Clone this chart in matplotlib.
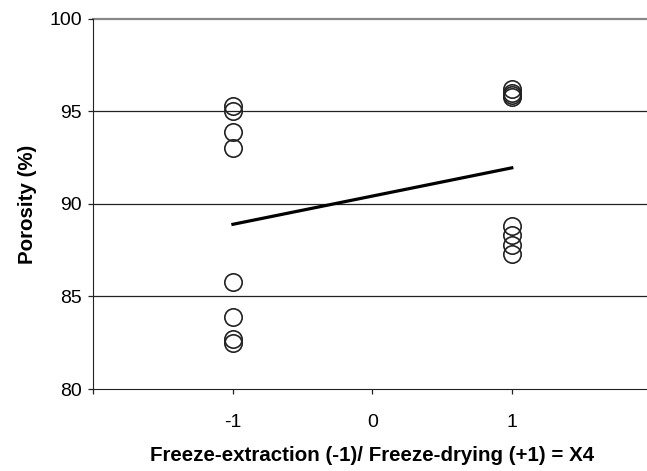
import matplotlib
matplotlib.use('Agg')
import matplotlib.pyplot as plt
import numpy as np

plt.rcParams['font.family'] = ['Liberation Sans', 'DejaVu Sans']

# Observed porosity for each level of X4
x_levels = [-1, 1]
porosity_extraction = [95.3, 95.0, 93.9, 93.0, 85.8, 83.9, 82.7, 82.5]
porosity_drying = [96.2, 96.0, 95.9, 95.8, 88.8, 88.3, 87.8, 87.3]

# Fitted line end points
fit_x = [-1, 1]
fit_y = [88.9, 91.95]

y_ticks = [80, 85, 90, 95, 100]
x_ticks = [-2, -1, 0, 1, 2]
x_ticklabels = ['', '-1', '0', '1', '']

fig = plt.figure(figsize=(6.47, 4.71), dpi=100)
ax = fig.add_axes([0.1445, 0.174, 0.862, 0.786])

for yv in [85, 90, 95]:
    ax.axhline(yv, color='#222222', lw=0.9, zorder=1)
ax.axhline(100, color='#888888', lw=1.6, zorder=1, clip_on=False)

ax.plot([x_levels[0]] * len(porosity_extraction), porosity_extraction, 'o',
        ms=12.5, mfc='none', mec='#222222', mew=1.2, zorder=3)
ax.plot([x_levels[1]] * len(porosity_drying), porosity_drying, 'o',
        ms=12.5, mfc='none', mec='#222222', mew=1.2, zorder=3)
ax.plot(fit_x, fit_y, color='black', lw=2.3, zorder=4)

ax.set_xlim(-2, 2)
ax.set_ylim(80, 100)
ax.set_xticks(x_ticks)
ax.set_xticklabels(x_ticklabels)
ax.set_yticks(y_ticks)

for s in ['top', 'right']:
    ax.spines[s].set_visible(False)
ax.spines['left'].set_color('#222222')
ax.spines['bottom'].set_color('#222222')
ax.tick_params(axis='both', direction='out', length=3.6, width=0.9,
               color='#222222', labelsize=14)
ax.tick_params(axis='y', pad=4.8)
ax.tick_params(axis='x', pad=14.5)

ax.set_xlabel('Freeze-extraction (-1)/ Freeze-drying (+1) = X4',
              fontsize=14.8, fontweight='bold', labelpad=11)
ax.set_ylabel('Porosity (%)', fontsize=14.8, fontweight='bold', labelpad=9)

fig.savefig('out.png', dpi=100)
